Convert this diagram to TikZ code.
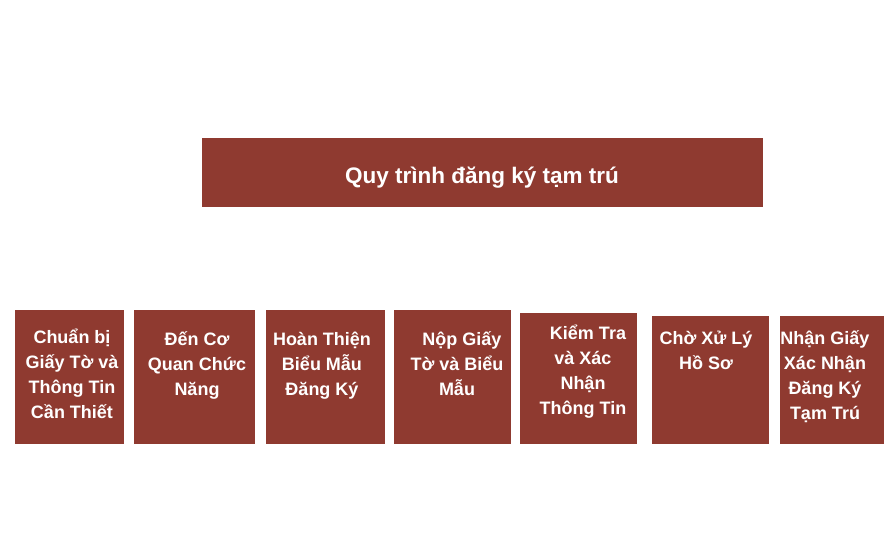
\documentclass[tikz,border=0pt]{standalone}
\usepackage{fontspec}
\setmainfont{Liberation Sans}
\definecolor{boxred}{RGB}{143,58,48}
\tikzset{
  stepbox/.style={fill=boxred, draw=none},
  steptext/.style={anchor=north, align=center, inner sep=0pt, text=white,
    font=\bfseries\fontsize{18pt}{25pt}\selectfont},
  titletext/.style={text=white, inner sep=0pt, font=\bfseries\fontsize{22.5pt}{26pt}\selectfont}
}
\newcommand{\fl}{\rule{0pt}{17pt}}
\begin{document}
\begin{tikzpicture}[x=1pt,y=-1pt]
\useasboundingbox (0,0) rectangle (884,540);
% title
\fill[stepbox] (202,138) rectangle (763,207);
\node[titletext] (title) at (482,178) {Quy trình đăng ký tạm trú};
% boxes
\fill[stepbox] (15,310) rectangle (124,444);
\fill[stepbox] (134,310) rectangle (255,444);
\fill[stepbox] (266,310) rectangle (385,444);
\fill[stepbox] (394,310) rectangle (511,444);
\fill[stepbox] (520,313) rectangle (637,444);
\fill[stepbox] (652,316) rectangle (769,444);
\fill[stepbox] (780,316) rectangle (884,444);
% texts
\node[steptext] (s1) at (72,326) {\fl Chuẩn bị\\Giấy Tờ và\\Thông Tin\\Cần Thiết};
\node[steptext] (s2) at (197,328) {\fl Đến Cơ\\Quan Chức\\Năng};
\node[steptext] (s3) at (322,328) {\fl Hoàn Thiện\\Biểu Mẫu\\Đăng Ký};
\node[steptext] (s4) at (457,328) {\fl\ \ Nộp Giấy\\Tờ và Biểu\\Mẫu};
\node[steptext] (s5) at (583,322) {\fl\ \ Kiểm Tra\\và Xác\\Nhận\\Thông Tin};
\node[steptext] (s6) at (706,327) {\fl Chờ Xử Lý\\Hồ Sơ};
\node[steptext] (s7) at (825,327) {\fl Nhận Giấy\\Xác Nhận\\Đăng Ký\\Tạm Trú};
\end{tikzpicture}
\end{document}
